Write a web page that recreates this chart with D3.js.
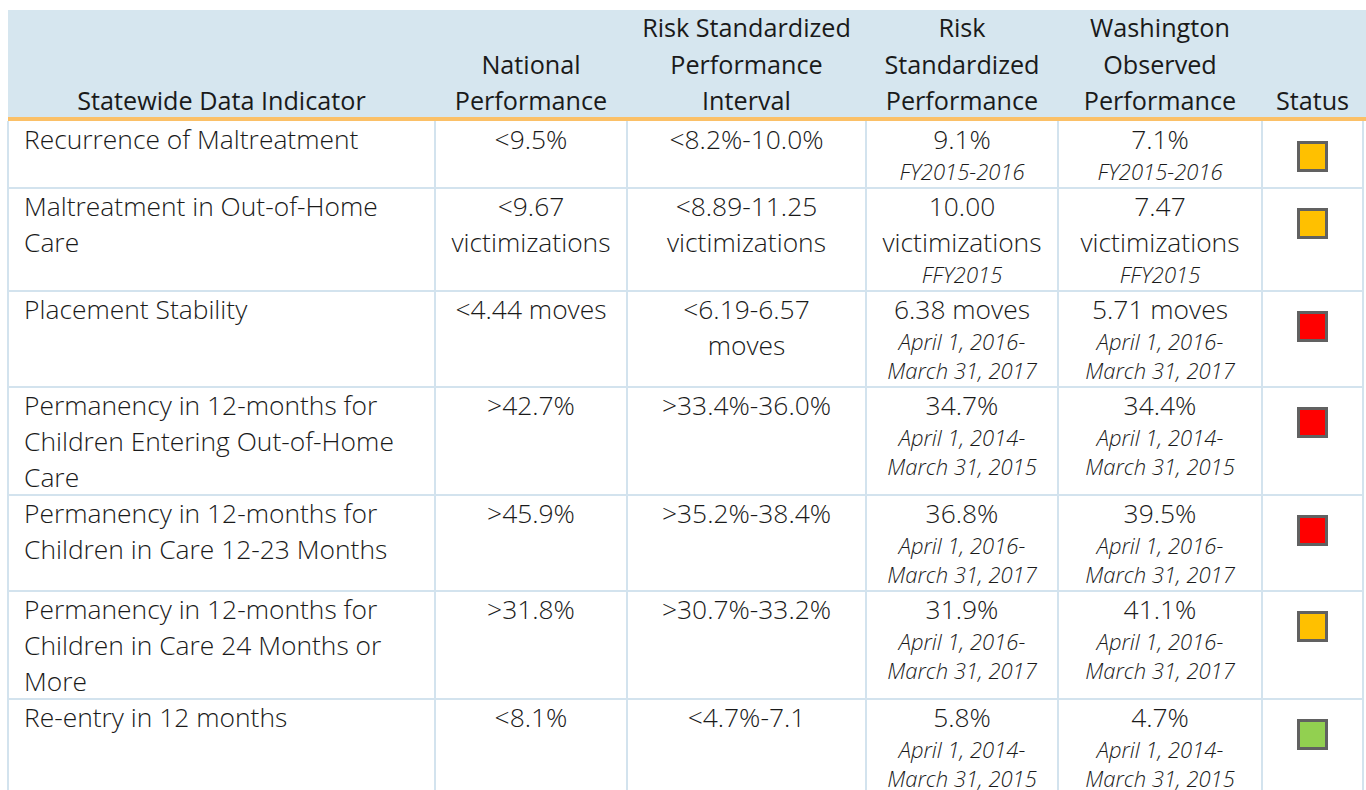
<!DOCTYPE html>
<html>
<head>
	<meta charset="utf-8">
	<title>Statewide Data Indicators</title>
	<script src="https://cdn.jsdelivr.net/npm/d3@7/dist/d3.min.js"></script>
	<style>
        html, body {
            margin: 0;
            padding: 0;
            background: #fff;
        }

        svg text {
            font-family: "Open Sans", Lato, sans-serif;
            fill: #1a1a1a;
        }

        .head text {
            font-weight: 400;
            font-size: 25.2px;
        }

        .main {
            font-weight: 300;
            font-size: 26.4px;
        }

        .period {
            font-style: italic;
            font-weight: 300;
            font-size: 22px;
        }
	</style>
</head>
<body>
<div id="chart"></div>
<script>
	// column headers, one entry per line
	const headers = [
		["Statewide Data Indicator"],
		["National", "Performance"],
		["Risk Standardized", "Performance", "Interval"],
		["Risk", "Standardized", "Performance"],
		["Washington", "Observed", "Performance"],
		["Status"]
	];

	const indicators = [
		["Recurrence of Maltreatment"],
		["Maltreatment in Out-of-Home", "Care"],
		["Placement Stability"],
		["Permanency in 12-months for", "Children Entering Out-of-Home", "Care"],
		["Permanency in 12-months for", "Children in Care 12-23 Months"],
		["Permanency in 12-months for", "Children in Care 24 Months or", "More"],
		["Re-entry in 12 months"]
	];

	const national = [
		["<9.5%"], ["<9.67", "victimizations"], ["<4.44 moves"],
		[">42.7%"], [">45.9%"], [">31.8%"], ["<8.1%"]
	];

	const interval = [
		["<8.2%-10.0%"], ["<8.89-11.25", "victimizations"], ["<6.19-6.57", "moves"],
		[">33.4%-36.0%"], [">35.2%-38.4%"], [">30.7%-33.2%"], ["<4.7%-7.1"]
	];

	const riskStandardized = [
		["9.1%"], ["10.00", "victimizations"], ["6.38 moves"],
		["34.7%"], ["36.8%"], ["31.9%"], ["5.8%"]
	];

	const observed = [
		["7.1%"], ["7.47", "victimizations"], ["5.71 moves"],
		["34.4%"], ["39.5%"], ["41.1%"], ["4.7%"]
	];

	const periods = [
		["FY2015-2016"],
		["FFY2015"],
		["April 1, 2016-", "March 31, 2017"],
		["April 1, 2014-", "March 31, 2015"],
		["April 1, 2016-", "March 31, 2017"],
		["April 1, 2016-", "March 31, 2017"],
		["April 1, 2014-", "March 31, 2015"]
	];

	const status = ["yellow", "yellow", "red", "red", "red", "yellow", "green"];

	const statusColor = {yellow: "#FFC000", red: "#FF0000", green: "#92D050"};

	const width = 1366;
	const height = 790;
	const colEdges = [8, 435, 627, 866, 1058, 1262, 1363];
	const headTop = 10;
	const bodyTop = 121;
	const lineMain = 36;
	const firstBase = 28;
	const periodGap = 31;
	const periodLine = 29;
	const grid = "#d3e3ee";

	// cells per row: main lines and italic period lines
	const rows = d3.range(indicators.length).map(i => {
		const cells = [
			{main: indicators[i], ital: [], align: "start"},
			{main: national[i], ital: []},
			{main: interval[i], ital: []},
			{main: riskStandardized[i], ital: periods[i]},
			{main: observed[i], ital: periods[i]},
		];
		const depth = d3.max(cells, c => firstBase + lineMain * (c.main.length - 1)
				+ (c.ital.length ? periodGap + periodLine * (c.ital.length - 1) : 0));
		return {cells, status: status[i], h: depth + 8};
	});

	const rowTop = [];
	rows.reduce((y, r) => (rowTop.push(y), y + r.h), bodyTop);

	const colMid = i => (colEdges[i] + colEdges[i + 1]) / 2;

	const svg = d3.select("#chart").append("svg")
			.attr("width", width)
			.attr("height", height)
			.attr("viewBox", [0, 0, width, height]);

	// header band
	svg.append("rect")
			.attr("x", colEdges[0])
			.attr("y", headTop)
			.attr("width", width - colEdges[0])
			.attr("height", bodyTop - headTop)
			.attr("fill", "#d6e6ef");

	const head = svg.append("g").attr("class", "head");
	headers.forEach((lines, c) => {
		const t = head.append("text")
				.attr("text-anchor", "middle")
				.attr("x", colMid(c));
		lines.forEach((l, k) => {
			t.append("tspan")
					.attr("x", colMid(c))
					.attr("y", 110 - (lines.length - 1 - k) * 36.5)
					.text(l);
		});
	});

	// grid lines
	const gridG = svg.append("g")
			.attr("stroke", grid)
			.attr("stroke-width", 2);
	const bodyBottom = rowTop[rowTop.length - 1] + rows[rows.length - 1].h;
	rowTop.slice(1).concat([bodyBottom]).forEach(y => {
		gridG.append("line")
				.attr("x1", colEdges[0]).attr("x2", colEdges[colEdges.length - 1])
				.attr("y1", y).attr("y2", y);
	});
	colEdges.forEach(x => {
		gridG.append("line")
				.attr("x1", x).attr("x2", x)
				.attr("y1", bodyTop).attr("y2", bodyBottom);
	});

	// orange rule under the header
	svg.append("line")
			.attr("x1", colEdges[0]).attr("x2", width)
			.attr("y1", 119).attr("y2", 119)
			.attr("stroke", "#fbc067")
			.attr("stroke-width", 4);

	const body = svg.append("g");
	rows.forEach((r, i) => {
		const top = rowTop[i];
		r.cells.forEach((cell, c) => {
			const left = cell.align === "start";
			const x = left ? colEdges[c] + 16 : colMid(c);
			let y = top + firstBase;
			cell.main.forEach((l, k) => {
				if (k > 0) y += lineMain;
				body.append("text")
						.attr("class", "main")
						.attr("x", x)
						.attr("y", y)
						.attr("text-anchor", left ? "start" : "middle")
						.text(l);
			});
			cell.ital.forEach((l, k) => {
				y += k === 0 ? periodGap : periodLine;
				body.append("text")
						.attr("class", "period")
						.attr("x", x)
						.attr("y", y)
						.attr("text-anchor", "middle")
						.text(l);
			});
		});
		// status square
		body.append("rect")
				.attr("x", colMid(5) - 14)
				.attr("y", top + 21.5)
				.attr("width", 28)
				.attr("height", 28)
				.attr("fill", statusColor[r.status])
				.attr("stroke", "#616161")
				.attr("stroke-width", 3);
	});
</script>
</body>
</html>
